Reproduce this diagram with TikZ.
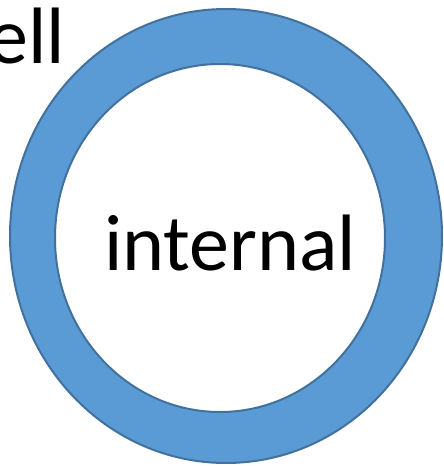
\documentclass[tikz,border=0pt]{standalone}
\usepackage{fontspec}
\setmainfont{Carlito}
\definecolor{ringfill}{HTML}{5B9BD5}
\definecolor{ringline}{HTML}{41719C}
\tikzset{
  ring/.style={draw=ringline, fill=ringfill, line width=2pt, even odd rule},
  bigtext/.style={inner sep=0pt, font=\fontsize{80}{90}\selectfont, text=black}
}
\begin{document}
\begin{tikzpicture}[x=1pt,y=-1pt]
\useasboundingbox (0,0) rectangle (444,466);
\path[ring] (226,236) ellipse [x radius=216pt, y radius=227pt]
            (220,238) ellipse [x radius=165pt, y radius=174pt];
\node[bigtext, anchor=base] (internal) at (230,270) {internal};
\node[bigtext, anchor=base east] (shell) at (65.5,63) {ell};
\end{tikzpicture}
\end{document}
